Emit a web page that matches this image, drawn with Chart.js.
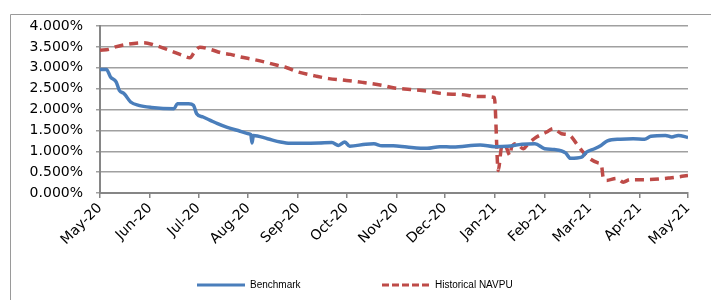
<!DOCTYPE html>
<html>
<head>
<meta charset="utf-8">
<script src="https://cdn.jsdelivr.net/npm/chart.js@4"></script>
<style>
  html, body { margin: 0; background: #fff; overflow: hidden; }
  #myChart { display: block; }
</style>
</head>
<body>
<canvas id="myChart" width="711" height="300"></canvas>
<script>
// x values are days since 1 May 2020
const monthLabels = ['May-20', 'Jun-20', 'Jul-20', 'Aug-20', 'Sep-20', 'Oct-20', 'Nov-20',
  'Dec-20', 'Jan-21', 'Feb-21', 'Mar-21', 'Apr-21', 'May-21'];
const monthStarts = [0, 31, 61, 92, 123, 153, 184, 214, 245, 276, 304, 335, 365];

const benchmarkDays = [0, 4, 6.5, 10, 12, 15, 19, 24, 32, 46, 48, 55, 58, 60, 64, 68.5, 73, 79, 87,
  92, 93.6, 94.4, 95.2, 104, 112, 118, 136, 144, 148, 152, 155, 165, 170, 175, 182, 190.5, 203,
  211, 219, 236, 245, 253, 262, 270, 276, 282, 289, 292, 299, 302, 307, 311, 315, 323, 331, 338,
  342, 351, 355, 359, 365];
const benchmarkValues = [2.96, 2.96, 2.78, 2.66, 2.46, 2.38, 2.18, 2.10, 2.05, 2.02, 2.14, 2.14, 2.10,
  1.90, 1.82, 1.74, 1.66, 1.57, 1.48, 1.42, 1.40, 1.20, 1.38, 1.30, 1.22, 1.19, 1.20, 1.21, 1.14,
  1.22, 1.12, 1.17, 1.18, 1.13, 1.13, 1.10, 1.07, 1.11, 1.10, 1.15, 1.11, 1.12, 1.17, 1.18, 1.06,
  1.04, 0.96, 0.83, 0.86, 0.98, 1.06, 1.14, 1.25, 1.29, 1.30, 1.29, 1.36, 1.38, 1.34, 1.38, 1.33];

const navpuDays = [0, 5.5, 9.6, 18, 27, 34, 43, 51, 55.8, 59, 62, 68.5, 75, 81, 87, 95, 102, 110,
  116, 123, 134, 142, 152, 163, 175, 182, 192.5, 203, 213, 223.5, 236, 244.8, 247.2, 249.3, 251.4,
  254.5, 255.5, 258.6, 262.7, 265.8, 271, 277.3, 281.3, 286.5, 291.7, 295.8, 299.9, 304.1, 309.2,
  311.3, 312.3, 314.4, 320.6, 324.8, 328.9, 339.2, 353.7, 365];
const navpuValues = [3.42, 3.44, 3.50, 3.57, 3.60, 3.54, 3.42, 3.30, 3.24, 3.40, 3.49, 3.44, 3.36,
  3.32, 3.26, 3.20, 3.14, 3.06, 3.00, 2.90, 2.80, 2.74, 2.70, 2.65, 2.58, 2.52, 2.48, 2.44, 2.38,
  2.36, 2.31, 2.29, 0.54, 1.10, 1.14, 0.90, 1.10, 1.18, 1.06, 1.18, 1.34, 1.46, 1.54, 1.42, 1.38,
  1.18, 0.98, 0.82, 0.72, 0.66, 0.38, 0.30, 0.35, 0.26, 0.32, 0.32, 0.36, 0.42];

const seriesNames = ['Benchmark', 'Historical NAVPU'];

const toPoints = (xs, ys) => xs.map((x, i) => ({ x: x, y: ys[i] }));

const tickFont = { family: 'DejaVu Sans', size: 14 };

// outer chart frame (only left and top edges are inside the picture)
const outerFrame = {
  id: 'outerFrame',
  beforeDraw(chart) {
    const ctx = chart.ctx;
    ctx.save();
    ctx.strokeStyle = '#9a9a9a';
    ctx.lineWidth = 1;
    ctx.beginPath();
    ctx.moveTo(10.5, 300);
    ctx.lineTo(10.5, 14.5);
    ctx.lineTo(711, 14.5);
    ctx.stroke();
    ctx.restore();
  }
};

// simple legend drawn at the bottom like the Excel one
const bottomLegend = {
  id: 'bottomLegend',
  afterDraw(chart) {
    const ctx = chart.ctx;
    const spots = [197, 382];
    chart.data.datasets.forEach((ds, i) => {
      const x = spots[i], y = 285;
      ctx.save();
      ctx.strokeStyle = ds.borderColor;
      ctx.lineWidth = 3;
      ctx.setLineDash(i === 1 ? [7, 3] : []);
      ctx.beginPath();
      ctx.moveTo(x, y);
      ctx.lineTo(x + 48, y);
      ctx.stroke();
      ctx.setLineDash([]);
      ctx.fillStyle = '#000';
      ctx.font = '10px "Liberation Sans Narrow", "Liberation Sans", sans-serif';
      if ('fontStretch' in ctx) ctx.fontStretch = 'condensed';
      ctx.textBaseline = 'middle';
      ctx.fillText(ds.label, x + 53, y);
      ctx.restore();
    });
  }
};

const data = {
  datasets: [{
    label: seriesNames[0],
    data: toPoints(benchmarkDays, benchmarkValues),
    borderColor: '#4a7ebb',
    borderWidth: 3.5,
    pointRadius: 0,
    cubicInterpolationMode: 'monotone'
  }, {
    label: seriesNames[1],
    data: toPoints(navpuDays, navpuValues),
    borderColor: '#be4b48',
    borderWidth: 3.5,
    borderDash: [9, 6],
    pointRadius: 0,
    cubicInterpolationMode: 'monotone'
  }]
};

const config = {
  type: 'line',
  data: data,
  plugins: [outerFrame, bottomLegend],
  options: {
    responsive: false,
    animation: false,
    layout: { padding: { left: 0, top: 26, right: 23, bottom: 0 } },
    plugins: {
      legend: { display: false },
      tooltip: { enabled: false }
    },
    scales: {
      x: {
        type: 'linear',
        min: 0,
        max: 365,
        afterBuildTicks: (scale) => { scale.ticks = monthStarts.map(v => ({ value: v })); },
        afterFit: (scale) => { scale.height = 107; },
        ticks: {
          autoSkip: false,
          minRotation: 45,
          maxRotation: 45,
          color: '#000',
          font: tickFont,
          padding: 2,
          callback: (v) => monthLabels[monthStarts.indexOf(v)]
        },
        grid: { display: true, drawOnChartArea: false, tickLength: 5, color: '#868686', lineWidth: 1.5 },
        border: { color: '#868686', width: 2 }
      },
      y: {
        min: 0,
        max: 4,
        afterFit: (scale) => { scale.width = 100; },
        ticks: {
          stepSize: 0.5,
          color: '#000',
          font: tickFont,
          padding: 13,
          callback: (v) => v.toFixed(3) + '%'
        },
        grid: { color: '#a0a0a0', lineWidth: 1.5, tickLength: 4 },
        border: { color: '#868686', width: 2 }
      }
    }
  }
};

document.addEventListener('DOMContentLoaded', (event) => {
  const myChart = new Chart(document.getElementById('myChart'), config);
});
</script>
</body>
</html>
